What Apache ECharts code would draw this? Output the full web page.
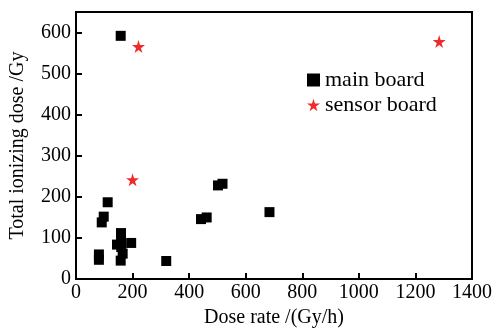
<!DOCTYPE html>
<html>
<head>
<meta charset="utf-8">
<script src="https://cdn.jsdelivr.net/npm/echarts@6/dist/echarts.min.js"></script>
<style>
  html, body { margin: 0; padding: 0; background: #fff; }
  #chart { width: 495px; height: 333px; }
</style>
</head>
<body>
<div id="chart"></div>
<script>
// dose rate (Gy/h), total ionizing dose (Gy)
const mainBoard = [
    [158, 592], [112, 187], [98, 152], [91, 138],
    [159, 112], [159, 95], [145, 84], [195, 88], [160, 78],
    [165, 62], [158, 45], [81, 60], [81, 47], [319, 44],
    [502, 228], [518, 232], [442, 146], [462, 150], [684, 163]
]
const sensorBoard = [
    [221, 566], [1284, 578], [200, 242]
]
const xTicks = [0, 200, 400, 600, 800, 1000, 1200, 1400]
const yTicks = [0, 100, 200, 300, 400, 500, 600]

const starPath = 'path://M50,0 L61,35 L98,35 L68,57 L79,91 L50,70 L21,91 L32,57 L2,35 L39,35 Z'
const font = 'Liberation Serif'

const chart = echarts.init(document.getElementById('chart'))

chart.setOption({
    animation: false,
    textStyle: { fontFamily: font },
    grid: {
        left: 73,
        right: 23,
        top: 12,
        bottom: 47,
        show: true,
        borderColor: '#000',
        borderWidth: 2
    },
    legend: {
        orient: 'vertical',
        left: 302,
        top: 64,
        itemWidth: 13,
        itemHeight: 13,
        itemGap: 3,
        textStyle: { fontFamily: font, fontSize: 22, color: '#000' },
        data: [
            { name: 'main board', icon: 'rect' },
            { name: 'sensor board', icon: starPath }
        ]
    },
    xAxis: {
        type: 'value',
        min: xTicks[0],
        max: xTicks[xTicks.length - 1],
        interval: 200,
        name: 'Dose rate /(Gy/h)',
        nameLocation: 'middle',
        nameGap: 28,
        nameTextStyle: { fontFamily: font, fontSize: 20, color: '#000' },
        axisLine: { lineStyle: { color: '#000', width: 2 } },
        axisTick: { inside: true, length: 6, lineStyle: { color: '#000', width: 2 } },
        axisLabel: {
            fontFamily: font, fontSize: 20, color: '#000', margin: 4,
            formatter: v => String(v)
        },
        splitLine: { show: false }
    },
    yAxis: {
        type: 'value',
        min: yTicks[0],
        max: 650,
        interval: 100,
        name: 'Total ionizing dose /Gy',
        nameLocation: 'middle',
        nameGap: 48,
        nameTextStyle: { fontFamily: font, fontSize: 20, color: '#000' },
        axisLine: { lineStyle: { color: '#000', width: 2 } },
        axisTick: { inside: true, length: 6, lineStyle: { color: '#000', width: 2 } },
        axisLabel: {
            fontFamily: font, fontSize: 20, color: '#000', margin: 5,
            formatter: v => yTicks.indexOf(v) >= 0 ? String(v) : ''
        },
        splitLine: { show: false }
    },
    series: [
        {
            name: 'main board',
            type: 'scatter',
            symbol: 'rect',
            symbolSize: 10,
            itemStyle: { color: '#000', opacity: 1 },
            data: mainBoard
        },
        {
            name: 'sensor board',
            type: 'scatter',
            symbol: starPath,
            symbolSize: 13,
            itemStyle: { color: '#ee2b2b', opacity: 1 },
            data: sensorBoard
        }
    ]
})
</script>
</body>
</html>
